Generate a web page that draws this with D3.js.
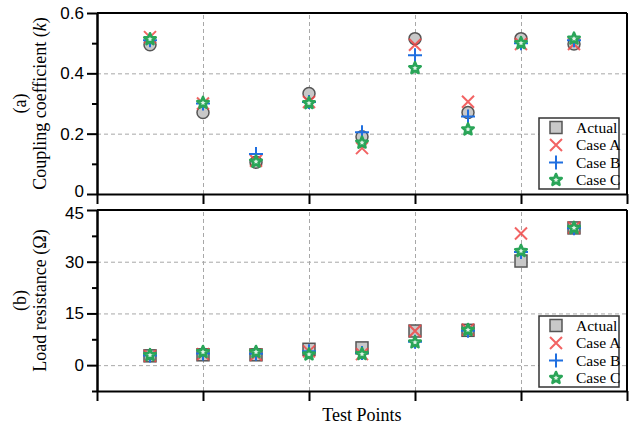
<!DOCTYPE html>
<html>
<head>
<meta charset="utf-8">
<script src="https://cdn.jsdelivr.net/npm/d3@7"></script>
<style>
  body { margin: 0; background: #fff; }
  svg { font-family: 'Liberation Serif', 'Times New Roman', serif; }
  .grid line { stroke: #a8a8a8; stroke-dasharray: 4,3; stroke-width: 1; }
  .grid path { display: none; }
  .axis path, .axis line { stroke: #000; stroke-width: 2; }
  .axis text { font-size: 17px; fill: #000; }
</style>
</head>
<body>
<svg id="chart"></svg>
<script>
// test points 1..9
var points = [1, 2, 3, 4, 5, 6, 7, 8, 9];

// (a) coupling coefficient k
var kActual = [0.495, 0.270, 0.105, 0.333, 0.190, 0.515, 0.270, 0.515, 0.497];
var kCaseA  = [0.520, 0.300, 0.110, 0.305, 0.152, 0.495, 0.306, 0.497, 0.497];
var kCaseB  = [0.510, 0.300, 0.133, 0.305, 0.205, 0.460, 0.257, 0.500, 0.510];
var kCaseC  = [0.513, 0.302, 0.107, 0.301, 0.170, 0.417, 0.214, 0.500, 0.515];

// (b) load resistance (ohm)
var rActual = [2.7, 3.0, 3.0, 4.6, 5.0, 9.9, 10.1, 30.2, 39.8];
var rCaseA  = [2.7, 3.2, 3.0, 4.0, 3.2, 9.9, 10.3, 38.2, 39.9];
var rCaseB  = [2.8, 3.4, 3.3, 4.0, 3.5, 6.8, 10.0, 32.8, 39.7];
var rCaseC  = [2.9, 3.8, 3.8, 3.1, 3.2, 6.6, 10.2, 33.1, 39.8];

var seriesNames = ['Actual', 'Case A', 'Case B', 'Case C'];

var kTicks = [0, 0.2, 0.4, 0.6], kMinor = [0.1, 0.3, 0.5], kGrid = [0.2, 0.4];
var rTicks = [0, 15, 30, 45], rMinor = [-7.5, 7.5, 22.5, 37.5], rGrid = [0, 15, 30];
var xTicks = [0, 2, 4, 6, 8, 10], xGrid = [2, 4, 6, 8];

var W = 635, H = 426;
var left = 97, right = 627;
var svg = d3.select('#chart').attr('width', W).attr('height', H);

var x = d3.scaleLinear().domain([0, 10]).range([left, right]);

var colors = { 'Actual': '#c8c8c8', 'Case A': '#f04848', 'Case B': '#1f6fe0', 'Case C': '#2aa558' };

function starPath(r) {
  var pts = [];
  for (var i = 0; i < 10; i++) {
    var a = -Math.PI / 2 + i * Math.PI / 5;
    var rr = i % 2 === 0 ? r : r * 0.45;
    pts.push([rr * Math.cos(a), rr * Math.sin(a)]);
  }
  return 'M' + pts.map(function(p) { return p[0].toFixed(2) + ',' + p[1].toFixed(2); }).join('L') + 'Z';
}

// draw one marker of a series at (0,0) inside g
function drawMarker(g, name, actualShape) {
  if (name === 'Actual') {
    if (actualShape === 'circle') {
      g.append('circle').attr('r', 6).attr('fill', colors[name]).attr('stroke', '#555').attr('stroke-width', 1.5);
    } else {
      g.append('rect').attr('x', -6).attr('y', -6).attr('width', 12).attr('height', 12)
        .attr('fill', colors[name]).attr('stroke', '#555').attr('stroke-width', 1.5);
    }
  } else if (name === 'Case A') {
    g.append('path').attr('d', 'M-6,-6L6,6M-6,6L6,-6')
      .attr('stroke', colors[name]).attr('stroke-width', 2).attr('fill', 'none').attr('opacity', 0.85);
  } else if (name === 'Case B') {
    g.append('path').attr('d', 'M-7,0L7,0M0,-7L0,7')
      .attr('stroke', colors[name]).attr('stroke-width', 2).attr('fill', 'none');
  } else {
    g.append('path').attr('d', starPath(6)).attr('fill', '#dff3e6')
      .attr('stroke', colors[name]).attr('stroke-width', 2.6).attr('stroke-linejoin', 'round');
  }
}

function createPanel(y, top, bottom, ticks, minor, grid, data, actualShape, tag, label, legendTop, fmt, edgeShift) {
  var g = svg.append('g');

  // grid
  g.append('g').attr('class', 'grid')
    .attr('transform', 'translate(' + left + ',0)')
    .call(d3.axisLeft(y).tickValues(grid).tickSize(-(right - left)).tickFormat(''));
  g.append('g').attr('class', 'grid')
    .attr('transform', 'translate(0,' + bottom + ')')
    .call(d3.axisBottom(x).tickValues(xGrid).tickSize(-(bottom - top)).tickFormat(''));

  // frame: top and right
  g.append('line').attr('x1', left).attr('x2', right).attr('y1', top).attr('y2', top)
    .attr('stroke', '#000').attr('stroke-width', 2);
  g.append('line').attr('x1', right).attr('x2', right).attr('y1', top).attr('y2', bottom)
    .attr('stroke', '#000').attr('stroke-width', 2);

  // x axis
  g.append('g').attr('class', 'axis')
    .attr('transform', 'translate(0,' + bottom + ')')
    .call(d3.axisBottom(x).tickValues(xTicks).tickSize(10).tickSizeOuter(0).tickFormat(''));

  // y axis
  var ya = g.append('g').attr('class', 'axis')
    .attr('transform', 'translate(' + left + ',0)')
    .call(d3.axisLeft(y).tickValues(ticks).tickSize(10).tickSizeOuter(0).tickPadding(3).tickFormat(fmt));
  // nudge the label that sits where the two panels meet
  ya.selectAll('.tick text')
    .attr('transform', function(d) { return 'translate(0,' + (edgeShift[d] || 0) + ')'; });
  g.append('g').attr('class', 'axis')
    .attr('transform', 'translate(' + left + ',0)')
    .call(d3.axisLeft(y).tickValues(minor).tickSize(5).tickSizeOuter(0).tickFormat(''));

  // y title
  var cy = (top + bottom) / 2;
  g.append('text').attr('transform', 'translate(26,' + cy + ') rotate(-90)')
    .attr('text-anchor', 'middle').attr('font-size', 18).text(tag);
  var t = g.append('text').attr('transform', 'translate(46,' + cy + ') rotate(-90)')
    .attr('text-anchor', 'middle').attr('font-size', 18);
  label(t);

  // markers
  seriesNames.forEach(function(name, si) {
    var vals = data[si];
    var sel = g.append('g').selectAll('g')
      .data(points)
      .enter().append('g')
      .attr('transform', function(d, i) { return 'translate(' + x(d) + ',' + y(vals[i]) + ')'; });
    sel.each(function() { drawMarker(d3.select(this), name, actualShape); });
  });

  // legend
  var lg = g.append('g').attr('transform', 'translate(539,' + legendTop + ')');
  lg.append('rect').attr('width', 80).attr('height', 71)
    .attr('fill', '#fff').attr('stroke', '#333').attr('stroke-width', 1.5);
  var rows = lg.selectAll('.row').data(seriesNames).enter().append('g')
    .attr('class', 'row')
    .attr('transform', function(d, i) { return 'translate(17,' + (9.5 + i * 17.5) + ')'; });
  rows.each(function(d) { drawMarker(d3.select(this), d, 'square'); });
  rows.append('text').attr('x', 20).attr('y', 5).attr('font-size', 15.5).text(function(d) { return d; });
}

var yTop = d3.scaleLinear().domain([0, 0.6]).range([194, 13]);
var yBot = d3.scaleLinear().domain([-7.5, 45]).range([391, 210]);

createPanel(yTop, 13, 194, kTicks, kMinor, kGrid, [kActual, kCaseA, kCaseB, kCaseC], 'circle', '(a)',
  function(t) {
    t.append('tspan').text('Coupling coefficient (');
    t.append('tspan').attr('font-style', 'italic').text('k');
    t.append('tspan').text(')');
  }, 118, function(d) { return d === 0 ? '0' : d3.format('.1f')(d); }, { 0: -3 });

createPanel(yBot, 210, 391, rTicks, rMinor, rGrid, [rActual, rCaseA, rCaseB, rCaseC], 'square', '(b)',
  function(t) { t.text('Load resistance (\u03A9)'); }, 316, d3.format('d'), { 45: 3 });

svg.append('text').attr('x', x(5)).attr('y', 421).attr('text-anchor', 'middle')
  .attr('font-size', 18).text('Test Points');
</script>
</body>
</html>
